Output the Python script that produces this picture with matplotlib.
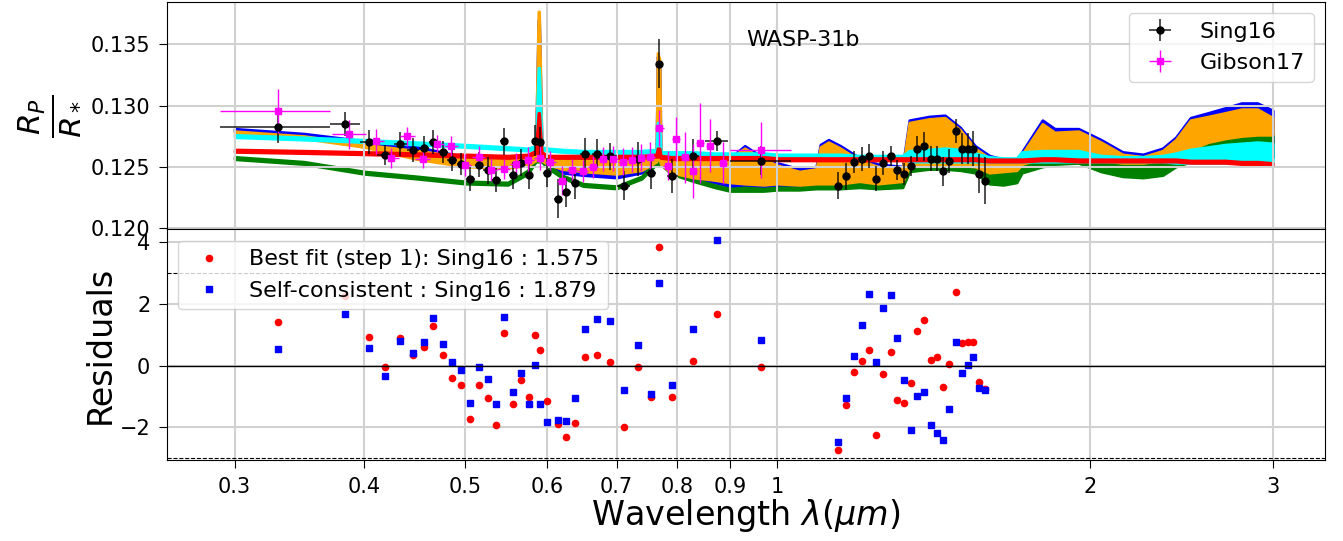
import numpy as np
import matplotlib
matplotlib.use('Agg')
import matplotlib.pyplot as plt
from matplotlib.ticker import NullLocator

# model spectra, sampled by eye: lower / upper envelope of each band
model_wl = [0.30, 0.35, 0.40, 0.45, 0.50, 0.55, 0.575, 0.585, 0.5885, 0.5895,
            0.593, 0.60, 0.62, 0.65, 0.70, 0.74, 0.7645, 0.7665, 0.7700, 0.7720,
            0.79, 0.83, 0.87, 0.90, 0.93, 0.97, 1.00, 1.05, 1.09, 1.10,
            1.12, 1.15, 1.20, 1.25, 1.32, 1.34, 1.40, 1.45, 1.50, 1.55,
            1.60, 1.65, 1.70, 1.72, 1.80, 1.85, 1.95, 2.05, 2.15, 2.25,
            2.35, 2.42, 2.50, 2.60, 2.70, 2.80, 2.90, 3.00]

blue_hi = [0.1281, 0.1277, 0.1271, 0.1266, 0.1258, 0.1257, 0.1258, 0.1262, 0.1370, 0.1370,
           0.1262, 0.1256, 0.1255, 0.1256, 0.1256, 0.1257, 0.1260, 0.1340, 0.1335, 0.1260,
           0.1257, 0.1257, 0.1258, 0.1257, 0.1267, 0.1257, 0.1253, 0.1248, 0.1250, 0.1268,
           0.1272, 0.1267, 0.1257, 0.1252, 0.1250, 0.1288, 0.1291, 0.1292, 0.1282, 0.1267,
           0.1259, 0.1256, 0.1256, 0.1262, 0.1288, 0.1281, 0.1281, 0.1272, 0.1262, 0.1260,
           0.1265, 0.1274, 0.1290, 0.1294, 0.1298, 0.1302, 0.1302, 0.1296]
blue_lo = [0.1279, 0.1275, 0.1269, 0.1263, 0.1251, 0.1250, 0.1252, 0.1257, 0.1257, 0.1257,
           0.1255, 0.1250, 0.1245, 0.1243, 0.1241, 0.1245, 0.1254, 0.1256, 0.1256, 0.1252,
           0.1245, 0.1239, 0.1237, 0.1234, 0.1233, 0.1233, 0.1234, 0.1233, 0.1234, 0.1234,
           0.1234, 0.1234, 0.1236, 0.1234, 0.1236, 0.1248, 0.1250, 0.1250, 0.1249, 0.1248,
           0.1243, 0.1244, 0.1245, 0.1250, 0.1254, 0.1255, 0.1255, 0.1253, 0.1251, 0.1251,
           0.1252, 0.1254, 0.1256, 0.1258, 0.1258, 0.1258, 0.1258, 0.1258]

orange_hi = [0.1279, 0.1275, 0.1268, 0.1263, 0.1258, 0.1257, 0.1258, 0.1262, 0.1377, 0.1377,
             0.1262, 0.1257, 0.1256, 0.1256, 0.1256, 0.1257, 0.1260, 0.1343, 0.1338, 0.1260,
             0.1257, 0.1257, 0.1258, 0.1257, 0.1265, 0.1256, 0.1251, 0.1246, 0.1248, 0.1266,
             0.1270, 0.1265, 0.1255, 0.1250, 0.1248, 0.1286, 0.1289, 0.1290, 0.1280, 0.1265,
             0.1257, 0.1254, 0.1254, 0.1260, 0.1285, 0.1278, 0.1279, 0.1270, 0.1260, 0.1258,
             0.1263, 0.1272, 0.1288, 0.1291, 0.1294, 0.1297, 0.1297, 0.1290]
orange_lo = [0.1277, 0.1273, 0.1266, 0.1256, 0.1250, 0.1249, 0.1251, 0.1255, 0.1255, 0.1255,
             0.1255, 0.1252, 0.1248, 0.1246, 0.1244, 0.1247, 0.1254, 0.1256, 0.1256, 0.1252,
             0.1245, 0.1241, 0.1239, 0.1237, 0.1236, 0.1235, 0.1236, 0.1235, 0.1236, 0.1236,
             0.1236, 0.1236, 0.1238, 0.1236, 0.1238, 0.1250, 0.1252, 0.1252, 0.1251, 0.1250,
             0.1245, 0.1246, 0.1247, 0.1252, 0.1257, 0.1259, 0.1259, 0.1255, 0.1253, 0.1253,
             0.1255, 0.1258, 0.1264, 0.1270, 0.1273, 0.1275, 0.1276, 0.1276]

cyan_hi = [0.1276, 0.1274, 0.1272, 0.1270, 0.1268, 0.1266, 0.1265, 0.1267, 0.1331, 0.1331,
           0.1266, 0.1265, 0.1264, 0.1263, 0.1263, 0.1263, 0.1264, 0.1286, 0.1284, 0.1262,
           0.1262, 0.1262, 0.1261, 0.1261, 0.1261, 0.1261, 0.1260, 0.1260, 0.1260, 0.1260,
           0.1260, 0.1260, 0.1259, 0.1259, 0.1259, 0.1263, 0.1264, 0.1265, 0.1264, 0.1261,
           0.1258, 0.1257, 0.1257, 0.1262, 0.1263, 0.1263, 0.1263, 0.1259, 0.1258, 0.1258,
           0.1259, 0.1261, 0.1264, 0.1266, 0.1268, 0.1269, 0.1270, 0.1269]
cyan_lo = [0.1274, 0.1272, 0.1270, 0.1268, 0.1266, 0.1264, 0.1263, 0.1265, 0.1265, 0.1265,
           0.1264, 0.1263, 0.1262, 0.1261, 0.1261, 0.1261, 0.1262, 0.1262, 0.1262, 0.1260,
           0.1260, 0.1260, 0.1259, 0.1259, 0.1259, 0.1259, 0.1258, 0.1258, 0.1258, 0.1258,
           0.1258, 0.1258, 0.1257, 0.1257, 0.1257, 0.1254, 0.1254, 0.1254, 0.1254, 0.1254,
           0.1254, 0.1254, 0.1254, 0.1254, 0.1254, 0.1254, 0.1254, 0.1254, 0.1254, 0.1254,
           0.1254, 0.1253, 0.1253, 0.1253, 0.1253, 0.1253, 0.1253, 0.1253]

green_hi = [0.1258, 0.1254, 0.1246, 0.1242, 0.1238, 0.1237, 0.1247, 0.1257, 0.1262, 0.1262,
            0.1257, 0.1252, 0.1243, 0.1236, 0.1234, 0.1242, 0.1255, 0.1262, 0.1262, 0.1255,
            0.1246, 0.1240, 0.1235, 0.1232, 0.1233, 0.1232, 0.1233, 0.1233, 0.1234, 0.1235,
            0.1235, 0.1235, 0.1236, 0.1235, 0.1236, 0.1250, 0.1251, 0.1251, 0.1250, 0.1252,
            0.1250, 0.1249, 0.1250, 0.1253, 0.1256, 0.1258, 0.1258, 0.1254, 0.1252, 0.1252,
            0.1253, 0.1258, 0.1263, 0.1270, 0.1273, 0.1275, 0.1276, 0.1276]
green_lo = [0.1256, 0.1252, 0.1244, 0.1240, 0.1236, 0.1235, 0.1244, 0.1254, 0.1254, 0.1254,
            0.1254, 0.1249, 0.1241, 0.1234, 0.1232, 0.1240, 0.1252, 0.1252, 0.1252, 0.1252,
            0.1244, 0.1238, 0.1233, 0.1230, 0.1230, 0.1230, 0.1231, 0.1231, 0.1232, 0.1232,
            0.1232, 0.1232, 0.1233, 0.1232, 0.1233, 0.1246, 0.1248, 0.1248, 0.1247, 0.1245,
            0.1236, 0.1235, 0.1237, 0.1245, 0.1250, 0.1252, 0.1253, 0.1246, 0.1242, 0.1241,
            0.1243, 0.1250, 0.1254, 0.1256, 0.1258, 0.1258, 0.1258, 0.1257]

red_hi = [0.1264, 0.1263, 0.1262, 0.1261, 0.1260, 0.1259, 0.1260, 0.1263, 0.1294, 0.1294,
          0.1262, 0.1259, 0.1259, 0.1259, 0.1259, 0.1259, 0.1260, 0.1265, 0.1265, 0.1259,
          0.1258, 0.1258, 0.1258, 0.1258, 0.1258, 0.1258, 0.1257, 0.1257, 0.1257, 0.1257,
          0.1257, 0.1257, 0.1257, 0.1257, 0.1257, 0.1257, 0.1257, 0.1257, 0.1257, 0.1257,
          0.1256, 0.1256, 0.1256, 0.1256, 0.1257, 0.1257, 0.1256, 0.1256, 0.1256, 0.1256,
          0.1256, 0.1256, 0.1255, 0.1255, 0.1255, 0.1254, 0.1254, 0.1253]
red_lo = [0.1262, 0.1261, 0.1260, 0.1259, 0.1258, 0.1257, 0.1258, 0.1261, 0.1261, 0.1261,
          0.1260, 0.1257, 0.1257, 0.1257, 0.1257, 0.1257, 0.1258, 0.1258, 0.1258, 0.1257,
          0.1256, 0.1256, 0.1256, 0.1256, 0.1256, 0.1256, 0.1255, 0.1255, 0.1255, 0.1255,
          0.1255, 0.1255, 0.1255, 0.1255, 0.1255, 0.1255, 0.1255, 0.1255, 0.1255, 0.1255,
          0.1254, 0.1254, 0.1254, 0.1254, 0.1255, 0.1255, 0.1254, 0.1254, 0.1254, 0.1254,
          0.1254, 0.1254, 0.1253, 0.1253, 0.1253, 0.1252, 0.1252, 0.1251]

# Sing16 transmission spectrum
sing_wl = [0.3306, 0.3834, 0.4044, 0.4188, 0.4333, 0.4457, 0.4563, 0.4663, 0.4763, 0.4860,
           0.4959, 0.5062, 0.5160, 0.5260, 0.5362, 0.5457, 0.5562, 0.5663, 0.5761, 0.5846,
           0.5903, 0.6000, 0.6148, 0.6262, 0.6387, 0.6531, 0.6702, 0.6903, 0.7111, 0.7333,
           0.7552, 0.7686, 0.7922, 0.8300, 0.8745, 0.9648,
           1.1448, 1.1646, 1.1855, 1.2058, 1.2255, 1.2447, 1.2650, 1.2856, 1.3047, 1.3243,
           1.3440, 1.3638, 1.3841, 1.4048, 1.4235, 1.4447, 1.4641, 1.4860, 1.5047, 1.5249,
           1.5437, 1.5635, 1.5846]
sing_rp = [0.12822, 0.12850, 0.12699, 0.12596, 0.12686, 0.12634, 0.12653, 0.12699, 0.12621, 0.12557,
           0.12525, 0.12399, 0.12517, 0.12470, 0.12388, 0.12707, 0.12429, 0.12530, 0.12435, 0.12713,
           0.12703, 0.12449, 0.12238, 0.12290, 0.12367, 0.12607, 0.12607, 0.12585, 0.12344, 0.12563,
           0.12449, 0.13342, 0.12421, 0.12585, 0.12708, 0.12549,
           0.12344, 0.12421, 0.12536, 0.12563, 0.12585, 0.12402, 0.12530, 0.12585, 0.12470, 0.12443,
           0.12503, 0.12648, 0.12667, 0.12566, 0.12566, 0.12462, 0.12544, 0.12790, 0.12648, 0.12648,
           0.12648, 0.12443, 0.12385]
sing_err = [0.0013, 0.0010, 0.0010, 0.0008, 0.0010, 0.0010, 0.0010, 0.0010, 0.0009, 0.0009,
            0.0009, 0.0010, 0.0010, 0.0011, 0.0010, 0.0011, 0.0011, 0.0011, 0.0012, 0.0013,
            0.0012, 0.0012, 0.0016, 0.0012, 0.0013, 0.0013, 0.0012, 0.0011, 0.0012, 0.0014,
            0.0013, 0.0020, 0.0014, 0.0014, 0.0008, 0.0012,
            0.0011, 0.0011, 0.0009, 0.0010, 0.0010, 0.0010, 0.0010, 0.0008, 0.0008, 0.0009,
            0.0008, 0.0010, 0.0012, 0.0010, 0.0010, 0.0012, 0.0010, 0.0010, 0.0013, 0.0013,
            0.0014, 0.0016, 0.0019]
sing_xerr = [0.040, 0.0125, 0.008, 0.007, 0.006, 0.006, 0.005, 0.005, 0.005, 0.005,
             0.005, 0.005, 0.005, 0.005, 0.005, 0.005, 0.005, 0.005, 0.005, 0.004,
             0.003, 0.005, 0.006, 0.006, 0.006, 0.007, 0.008, 0.010, 0.010, 0.010,
             0.008, 0.004, 0.010, 0.010, 0.022, 0.065,
             0.009, 0.009, 0.009, 0.009, 0.009, 0.009, 0.009, 0.009, 0.009, 0.009,
             0.009, 0.009, 0.009, 0.009, 0.009, 0.009, 0.009, 0.009, 0.009, 0.009,
             0.009, 0.009, 0.009]

# Gibson17 transmission spectrum
gib_wl = [0.3306, 0.3867, 0.4101, 0.4248, 0.4401, 0.4553, 0.4700, 0.4850, 0.4997, 0.5155,
          0.5298, 0.5448, 0.5599, 0.5752, 0.5903, 0.6042, 0.6202, 0.6339, 0.6493, 0.6643,
          0.6792, 0.6944, 0.7093, 0.7242, 0.7389, 0.7542, 0.7696, 0.7837, 0.7989, 0.8138,
          0.8292, 0.8426, 0.8603, 0.8863, 0.9648]
gib_rp = [0.12959, 0.12763, 0.12707, 0.12571, 0.12748, 0.12566, 0.12686, 0.12667, 0.12511, 0.12579,
          0.12470, 0.12481, 0.12525, 0.12557, 0.12571, 0.12539, 0.12385, 0.12476, 0.12467, 0.12498,
          0.12563, 0.12566, 0.12539, 0.12557, 0.12571, 0.12579, 0.12817, 0.12508, 0.12722, 0.12576,
          0.12462, 0.12694, 0.12672, 0.12530, 0.12634]
gib_err = [0.0018, 0.0012, 0.0010, 0.0008, 0.0008, 0.0008, 0.0007, 0.0008, 0.0009, 0.0009,
           0.0009, 0.0008, 0.0009, 0.0010, 0.0010, 0.0009, 0.0012, 0.0009, 0.0009, 0.0009,
           0.0010, 0.0010, 0.0011, 0.0010, 0.0011, 0.0012, 0.0015, 0.0012, 0.0018, 0.0021,
           0.0022, 0.0033, 0.0022, 0.0017, 0.0023]
gib_xerr = [0.040, 0.0145, 0.0075, 0.0075, 0.0075, 0.0075, 0.0075, 0.0075, 0.0075, 0.0075,
            0.0075, 0.0075, 0.0075, 0.0075, 0.0075, 0.0075, 0.0075, 0.0075, 0.0075, 0.0075,
            0.0075, 0.0075, 0.0075, 0.0075, 0.0075, 0.0075, 0.0075, 0.0075, 0.0075, 0.0075,
            0.0075, 0.0075, 0.0075, 0.0075, 0.065]

# residuals at the Sing16 wavelengths
res_best = [1.40, 2.26, 0.92, -0.03, 0.88, 0.35, 0.61, 1.27, 0.34, -0.39,
            -0.64, -1.72, -0.64, -1.06, -1.92, 1.06, -1.24, -0.47, -1.03, 0.98,
            0.50, -1.16, -1.90, -2.33, -1.87, 0.29, 0.33, 0.12, -2.00, -0.04,
            -1.03, 3.85, -1.03, 0.15, 1.66, -0.04,
            -2.74, -1.29, -0.22, 0.15, 0.51, -2.26, -0.27, 0.45, -1.10, -1.22,
            -0.55, 1.11, 1.48, 0.18, 0.28, -0.68, 0.04, 2.37, 0.72, 0.77,
            0.78, -0.52, -0.75]
res_self = [0.55, 1.66, 0.56, -0.33, 0.79, 0.40, 0.78, 1.55, 0.71, 0.11,
            -0.13, -1.22, -0.05, -0.43, -1.25, 1.59, -0.84, -0.25, -1.24, 0.03,
            -1.24, -1.83, -1.76, -1.81, -1.05, 1.19, 1.52, 1.44, -0.78, 0.68,
            -0.93, 2.68, -0.62, 1.17, 4.06, 0.83,
            -2.49, -1.06, 0.31, 1.30, 2.31, 0.13, 1.88, 2.30, 0.89, -0.47,
            -2.08, -0.98, -0.86, -1.91, -2.17, -2.42, -1.40, 0.77, -0.24, 0.02,
            0.28, -0.72, -0.79]

xticks = [0.3, 0.4, 0.5, 0.6, 0.7, 0.8, 0.9, 1, 2, 3]
xticklabels = ['0.3', '0.4', '0.5', '0.6', '0.7', '0.8', '0.9', '1', '2', '3']

fig = plt.figure(figsize=(13.43, 5.41), dpi=100)
ax1 = fig.add_axes([0.1243, 0.5758, 0.8623, 0.4211])
ax2 = fig.add_axes([0.1243, 0.1497, 0.8623, 0.4261], sharex=ax1)

# models: blue, green, orange, cyan, red (red on top)
for lo, hi, c in [(blue_lo, blue_hi, 'blue'), (green_lo, green_hi, 'green'),
                  (orange_lo, orange_hi, 'orange'), (cyan_lo, cyan_hi, 'cyan'),
                  (red_lo, red_hi, 'red')]:
    ax1.fill_between(model_wl, lo, hi, color=c, lw=2)

ax1.errorbar(sing_wl, sing_rp, yerr=sing_err, xerr=sing_xerr, fmt='o', color='k',
             ecolor=(0, 0, 0, 0.75), elinewidth=1.3, ms=5, label='Sing16')
ax1.errorbar(gib_wl, gib_rp, yerr=gib_err, xerr=gib_xerr, fmt='s', color='magenta',
             elinewidth=1.0, ms=5, label='Gibson17')

ax1.text(0.5, 0.832, 'WASP-31b', transform=ax1.transAxes, ha='left', va='center',
         fontsize=16)
ax1.set_ylim(0.11985, 0.1385)
ax1.set_yticks([0.120, 0.125, 0.130, 0.135])
ax1.set_ylabel(r'$\frac{R_P}{R_*}$', fontsize=32, labelpad=8)
ax1.legend(loc='upper right', fontsize=16)
ax1.grid(True, color='0.82', lw=1.5)
ax1.tick_params(labelsize=15, labelbottom=False, length=6, pad=6)

ax2.plot(sing_wl, res_best, 'o', color='red', ms=4.5,
         label='Best fit (step 1): Sing16 : 1.575')
ax2.plot(sing_wl, res_self, 's', color='blue', ms=4.5,
         label='Self-consistent : Sing16 : 1.879')
ax2.axhline(0, color='k', lw=1)
ax2.axhline(3, color='k', ls='--', lw=0.8)
ax2.axhline(-3, color='k', ls='--', lw=0.8)
ax2.set_ylim(-3.06, 4.41)
ax2.set_yticks([-2, 0, 2, 4])
ax2.set_ylabel('Residuals', fontsize=24, labelpad=2)
ax2.legend(loc='upper left', fontsize=16)
ax2.grid(True, color='0.82', lw=1.5)

ax2.set_xscale('log')
ax2.set_xlim(0.2582, 3.369)
ax2.set_xticks(xticks)
ax2.set_xticklabels(xticklabels)
ax2.xaxis.set_minor_locator(NullLocator())
ax2.tick_params(labelsize=15, length=6, pad=6)
ax2.set_xlabel(r'Wavelength $\lambda (\mu m)$', fontsize=24, labelpad=0)

fig.savefig('out.png', dpi=100)
